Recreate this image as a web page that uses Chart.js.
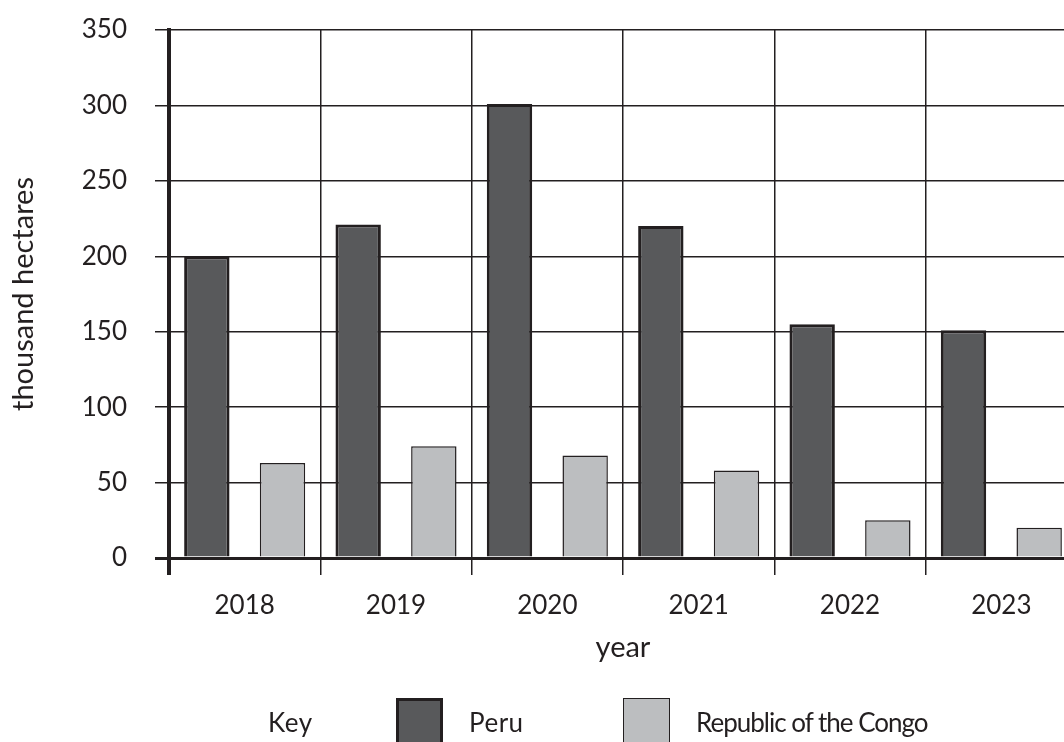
<!DOCTYPE html>
<html>
<head>
<meta charset="utf-8">
<script src="https://cdn.jsdelivr.net/npm/chart.js@4/dist/chart.umd.min.js"></script>
<style>
  html, body { margin: 0; padding: 0; background: #ffffff; overflow: hidden; width: 1064px; height: 742px; }
  #wrap { position: relative; width: 1064px; height: 742px; overflow: hidden; }
  canvas { position: absolute; left: 0; top: 0; }
  .lg { position: absolute; font-family: Lato, "Open Sans", sans-serif; font-size: 26px; line-height: 30px; color: #231f20; white-space: nowrap; }
  .box { position: absolute; box-sizing: border-box; width: 47px; height: 47px; }
</style>
</head>
<body>
<div id="wrap">
  <canvas id="c" width="1080" height="742"></canvas>
  <div class="lg" style="left:268px; top:707px; letter-spacing:0.5px;">Key</div>
  <div class="box" style="left:396px; top:698px; background:#58595b; border:3px solid #231f20;"></div>
  <div class="lg" style="left:469px; top:707px; letter-spacing:0.5px;">Peru</div>
  <div class="box" style="left:623px; top:698px; background:#bcbec0; border:1.5px solid #231f20;"></div>
  <div class="lg" style="left:696px; top:707px; letter-spacing:-1px;">Republic of the Congo</div>
</div>
<script>
const years = ["2018", "2019", "2020", "2021", "2022", "2023"];
const peru = [200, 221, 301, 220, 155, 151];
const congo = [63, 74, 68, 58, 25, 20];
const yTicks = [0, 50, 100, 150, 200, 250, 300, 350];
const seriesNames = ["Peru", "Republic of the Congo"];

const ink = "#231f20";
const FONT = "Lato, 'Open Sans', sans-serif";

new Chart(document.getElementById("c"), {
  type: "bar",
  data: {
    labels: years,
    datasets: [
      { label: seriesNames[0], data: peru, backgroundColor: "#58595b", borderColor: ink, borderWidth: 3,
        barPercentage: 0.6, categoryPercentage: 1.0 },
      { label: seriesNames[1], data: congo, backgroundColor: "#bcbec0", borderColor: ink, borderWidth: 1.5,
        barPercentage: 0.6, categoryPercentage: 1.0 }
    ]
  },
  options: {
    responsive: false,
    animation: false,
    devicePixelRatio: 1,
    layout: { padding: { top: 30, right: 3, bottom: 0, left: 0 } },
    plugins: { legend: { display: false }, tooltip: { enabled: false } },
    scales: {
      x: {
        offset: true,
        grid: {
          offset: true,
          color: ink,
          lineWidth: (ctx) => (ctx.index === 0 ? 4 : 1.5),
          tickLength: 17,
          drawOnChartArea: true
        },
        border: { display: true, color: ink, width: 3 },
        ticks: { color: ink, font: { family: FONT, size: 26 }, padding: 15, maxRotation: 0 },
        title: { display: true, text: "year", color: ink, font: { family: FONT, size: 29 }, padding: { top: 0, bottom: 77 } },
        afterFit: (s) => { s.height = 184; s.paddingLeft = 0; s.paddingRight = 0; }
      },
      y: {
        min: 0,
        max: 350,
        afterBuildTicks: (s) => { s.ticks = yTicks.map(v => ({ value: v })); },
        grid: {
          color: ink,
          lineWidth: (ctx) => (ctx.tick && ctx.tick.value === 0 ? 3 : 1.5),
          tickLength: 14
        },
        border: { display: true, color: ink, width: 4 },
        ticks: { color: ink, font: { family: FONT, size: 26 }, padding: 28 },
        title: { display: true, text: "thousand hectares", color: ink, font: { family: FONT, size: 29 }, padding: { top: 6, bottom: 0 } },
        afterFit: (s) => { s.width = 169; s.paddingTop = 10; s.paddingBottom = 10; }
      }
    }
  }
});
</script>
</body>
</html>
